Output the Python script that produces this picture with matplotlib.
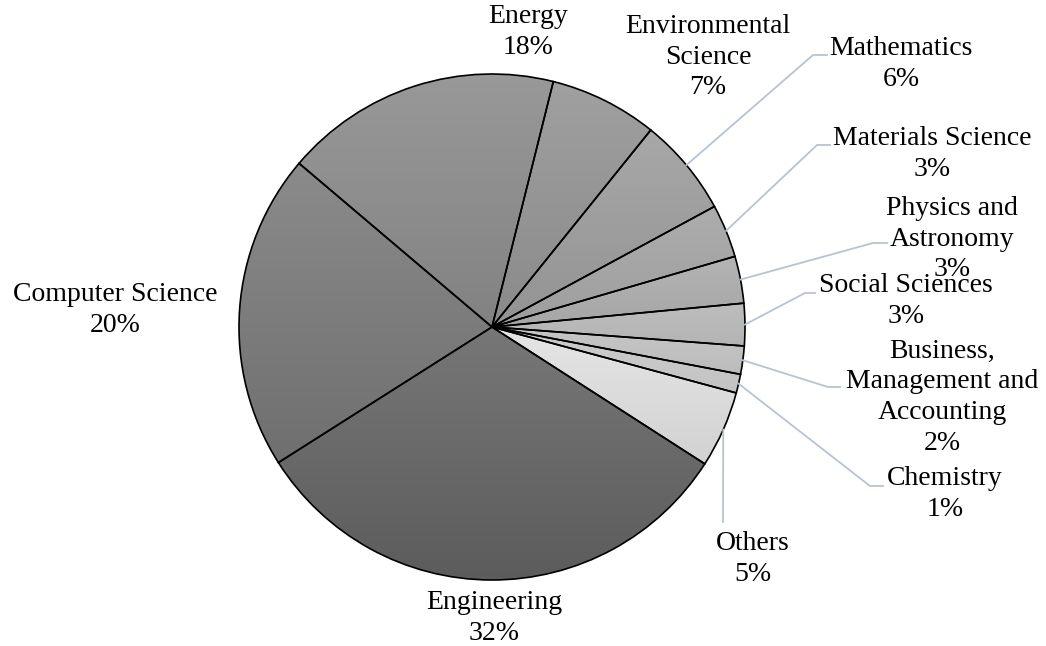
import numpy as np
import matplotlib
matplotlib.use("Agg")
import matplotlib.pyplot as plt
from matplotlib.colors import LinearSegmentedColormap

# data (percent of publications by subject area)
subjects = ["Engineering", "Computer Science", "Energy", "Environmental\nScience",
            "Mathematics", "Materials Science", "Physics and\nAstronomy",
            "Social Sciences", "Business,\nManagement and\nAccounting",
            "Chemistry", "Others"]
shares = [31.9, 20.2, 17.7, 6.9, 6.3, 3.4, 3.0, 2.7, 1.8, 1.2, 4.9]

# gradient colours per slice (top, bottom)
top_colors = ["#777777", "#8b8b8b", "#999999", "#a0a0a0", "#a8a8a8", "#adadad",
              "#b4b4b4", "#bdbdbd", "#c6c6c6", "#cdcdcd", "#e5e5e5"]
bottom_colors = ["#5c5c5c", "#6f6f6f", "#828282", "#8a8a8a", "#939393", "#9e9e9e",
                 "#a6a6a6", "#b4b4b4", "#bcbcbc", "#c3c3c3", "#d2d2d2"]

W, H = 1046, 646
CX, CY, R = 492, 327, 253


def px(x, y):
    """pixel position (from top-left) -> data coords with pie radius 1"""
    return (x - CX) / R, (CY - y) / R


plt.rcParams['font.family'] = ['Liberation Serif', 'DejaVu Serif']

fig = plt.figure(figsize=(W / 100, H / 100), dpi=100)
ax = fig.add_axes([0, 0, 1, 1])
ax.axis('off')

wedges, _ = ax.pie(shares, startangle=-32.75, counterclock=False, radius=1.0,
                   colors=["none"] * len(shares),
                   wedgeprops=dict(edgecolor="black", linewidth=1.2))

# vertical gradient fill, clipped to each slice
grad = np.linspace(0, 1, 256).reshape(-1, 1)
for w, c0, c1 in zip(wedges, top_colors, bottom_colors):
    verts = w.get_path().vertices
    x0, x1 = verts[:, 0].min(), verts[:, 0].max()
    y0, y1 = verts[:, 1].min(), verts[:, 1].max()
    cmap = LinearSegmentedColormap.from_list("g", [c0, c1])
    im = ax.imshow(grad, cmap=cmap, extent=(x0, x1, y0, y1), origin="upper",
                   aspect="auto", zorder=0.5, interpolation="bilinear")
    im.set_clip_path(w)
    w.set_zorder(1)

ax.set_xlim(-CX / R, (W - CX) / R)
ax.set_ylim(-(H - CY) / R, CY / R)

# label positions (pixel centres) and leader lines
label_px = [(494, 618), (115, 310), (528, 32), (708, 57), (901, 64), (932, 154),
            (952, 239), (906, 301), (942, 397), (945, 494), (753, 559)]
leaders = {
    4: [(813, 55), (827, 55)],
    5: [(817, 145), (830, 145)],
    6: [(873, 243), (887, 243)],
    7: [(805, 293), (815, 293)],
    8: [(828, 387), (840, 387)],
    9: [(870, 486), (883, 486)],
    10: [(723, 522)],
}

for i, (w, name, v) in enumerate(zip(wedges, subjects, shares)):
    lx, ly = px(*label_px[i])
    ax.text(lx, ly, f"{name}\n{round(v)}%", ha="center", va="center",
            multialignment="center", fontsize=20, linespacing=1.3,
            color="black", zorder=3)
    if i in leaders:
        mid = np.deg2rad((w.theta1 + w.theta2) / 2)
        pts = [(np.cos(mid), np.sin(mid))] + [px(*p) for p in leaders[i]]
        xs, ys = zip(*pts)
        ax.plot(xs, ys, color="#b8c3d2", linewidth=1.3, zorder=2)

fig.savefig("out.png", dpi=100, facecolor="white")
